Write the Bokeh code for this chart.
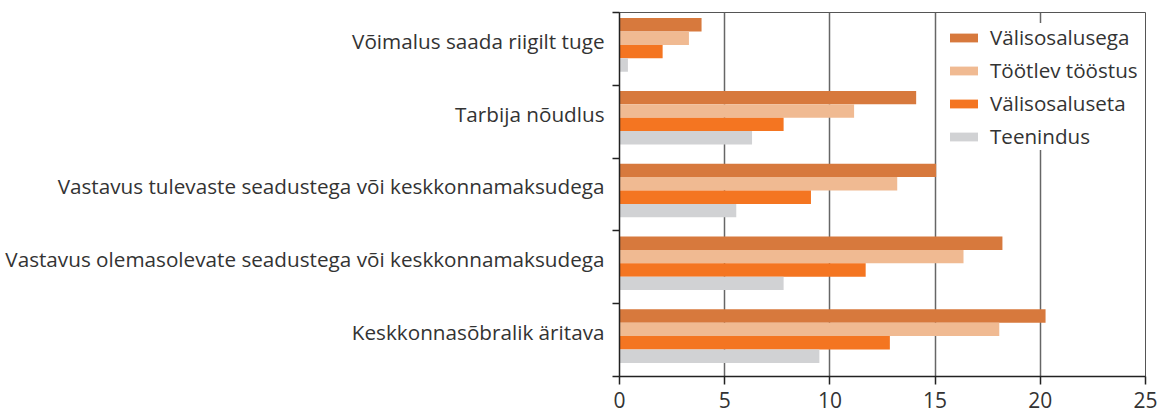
from bokeh.plotting import figure
from bokeh.models import Range1d, FixedTicker, ColumnDataSource, Legend, LegendItem
from bokeh.embed import file_html
from bokeh.resources import INLINE

categories = [
    "Võimalus saada riigilt tuge",
    "Tarbija nõudlus",
    "Vastavus tulevaste seadustega või keskkonnamaksudega",
    "Vastavus olemasolevate seadustega või keskkonnamaksudega",
    "Keskkonnasõbralik äritava",
]
series_names = ["Välisosalusega", "Töötlev tööstus", "Välisosaluseta", "Teenindus"]
valisosalusega = [3.9, 14.1, 15.05, 18.2, 20.25]
tootlev_toostus = [3.3, 11.15, 13.2, 16.35, 18.05]
valisosaluseta = [2.05, 7.8, 9.1, 11.7, 12.85]
teenindus = [0.4, 6.3, 5.55, 7.8, 9.5]
x_ticks = [0, 5, 10, 15, 20, 25]

series_values = [valisosalusega, tootlev_toostus, valisosaluseta, teenindus]
colors = ["#D7793D", "#F0BA92", "#F47521", "#D1D2D4"]

FONT = "Open Sans"
TXT = "#333333"
n = len(categories)

p = figure(width=1161, height=419, output_backend="svg", toolbar_location=None,
           x_range=Range1d(0, 25), y_range=Range1d(0, n),
           min_border_left=619, min_border_right=16, min_border_top=12, min_border_bottom=43)

bar_h = 0.184
renderers = []
for j, (name, vals, col) in enumerate(zip(series_names, series_values, colors)):
    ys = [(n - 0.5 - i) + 0.055 + (1.5 - j) * bar_h for i in range(n)]
    src = ColumnDataSource(dict(y=ys, right=vals))
    r = p.hbar(y="y", right="right", left=0, height=bar_h, source=src,
               fill_color=col, line_color=None)
    renderers.append((name, r))

# axes
p.xaxis.ticker = FixedTicker(ticks=x_ticks)
p.xaxis.axis_line_color = "#222222"
p.xaxis.axis_line_width = 1.5
p.xaxis.major_tick_line_color = "#222222"
p.xaxis.major_tick_line_width = 1.5
p.xaxis.major_tick_out = 8
p.xaxis.major_tick_in = 0
p.xaxis.minor_tick_line_color = None
p.xaxis.minor_tick_out = 0
p.xaxis.minor_tick_in = 0
p.xaxis.major_label_text_font = FONT
p.xaxis.major_label_text_font_size = "21px"
p.xaxis.major_label_text_color = TXT
p.xaxis.major_label_standoff = 7

label_pos = [n - 0.5 - i + 0.11 for i in range(n)]
p.yaxis.ticker = FixedTicker(ticks=label_pos, minor_ticks=list(range(n + 1)))
p.yaxis.major_label_overrides = {c: lab for c, lab in zip(label_pos, categories)}
p.yaxis.major_tick_line_color = None
p.yaxis.major_tick_out = 0
p.yaxis.major_tick_in = 0
p.yaxis.minor_tick_line_color = "#222222"
p.yaxis.minor_tick_line_width = 1.5
p.yaxis.minor_tick_out = 7
p.yaxis.minor_tick_in = 0
p.yaxis.axis_line_color = "#222222"
p.yaxis.axis_line_width = 1.5
p.yaxis.major_label_text_font = FONT
p.yaxis.major_label_text_font_size = "20.7px"
p.yaxis.major_label_text_color = TXT
p.yaxis.major_label_standoff = 8

p.xgrid.ticker = FixedTicker(ticks=x_ticks[1:])
p.xgrid.grid_line_color = "#666666"
p.xgrid.grid_line_width = 1.5
p.ygrid.grid_line_color = None

p.outline_line_color = "#555555"
p.outline_line_width = 1

legend = Legend(items=[LegendItem(label=nm, renderers=[r]) for nm, r in renderers],
                location=(327, 226), orientation="vertical")
legend.glyph_width = 35
legend.glyph_height = 11
legend.label_text_font = FONT
legend.label_text_font_size = "20.6px"
legend.label_text_color = TXT
legend.label_standoff = 9
legend.label_height = 27
legend.label_width = 150
legend.spacing = 5
legend.padding = 8
legend.margin = 0
legend.border_line_color = None
legend.background_fill_color = "white"
legend.background_fill_alpha = 1.0
p.add_layout(legend, "center")

open("out.html", "w").write(file_html(p, INLINE))
